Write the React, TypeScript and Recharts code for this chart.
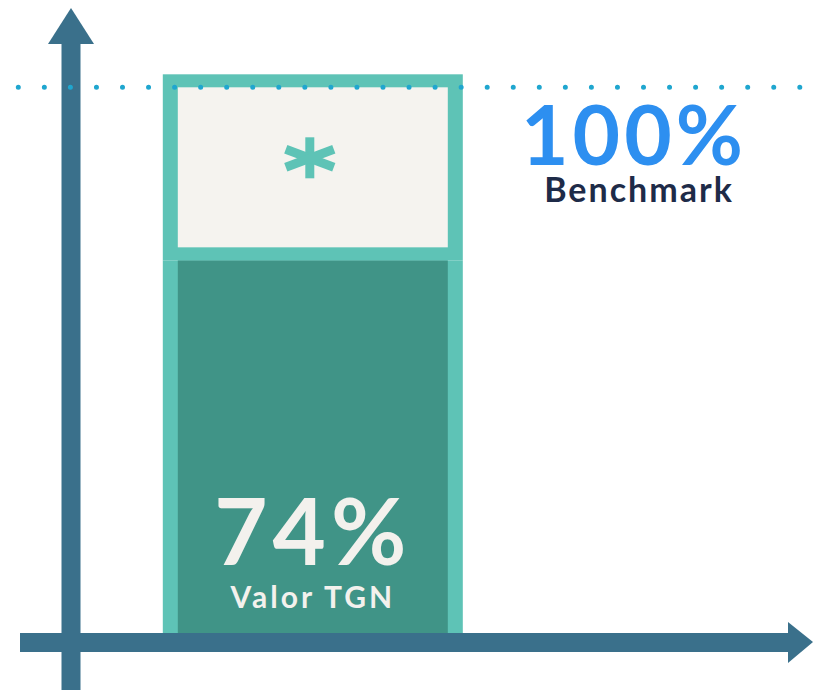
import { BarChart, Bar, XAxis, YAxis, ReferenceLine, LabelList, Customized } from 'recharts';

const categories = ['Valor TGN'];
const valorTGN = [74];
const benchmark = [100];

const BORDER = '#5ec3b6';
const CREAM = '#f5f3ef';
const DARK = '#409487';
const AXIS = '#3a708b';
const DOTS = '#1fa6cf';

const FONT = 'Lato, "Open Sans", sans-serif';

const chartData = categories.map((name, i) => ({
  name,
  valor: valorTGN[i],
  resto: benchmark[i] - valorTGN[i],
}));

// lower segment: teal frame on the sides, dark fill
const ValorShape = (props: any) => {
  const { x, y, width, height } = props;
  return (
    <g>
      <rect x={x - 15} y={y} width={width + 30} height={height} fill={BORDER} />
      <rect x={x} y={y} width={width} height={height} fill={DARK} />
    </g>
  );
};

// upper segment: frame on top and sides, separator at the bottom
const RestoShape = (props: any) => {
  const { x, y, width, height } = props;
  return (
    <g>
      <rect x={x - 15} y={y - 13} width={width + 30} height={height + 13} fill={BORDER} />
      <rect x={x} y={y} width={width} height={height - 13} fill={CREAM} />
    </g>
  );
};

const renderValor = (props: any) => {
  const { x, y, width, height, value } = props;
  const cx = x + width / 2;
  const bottom = y + height;
  return (
    <g>
      <text x={cx} y={bottom - 68} textAnchor="middle" fontFamily={FONT} fontWeight={700} fontSize={92} letterSpacing={5} fill="#f3f1ed">
        {`${value}%`}
      </text>
      <text x={cx} y={bottom - 25} textAnchor="middle" fontFamily={FONT} fontWeight={700} fontSize={30} letterSpacing={3} fill="#f3f1ed">
        {categories[0]}
      </text>
    </g>
  );
};

const renderAsterisk = (props: any) => {
  const { x, y, width } = props;
  const cx = x + width / 2 - 3;
  const cy = y + 71;
  return (
    <g stroke={BORDER} strokeWidth={9} strokeLinecap="butt">
      <line x1={cx} y1={cy - 21} x2={cx} y2={cy + 20} />
      <line x1={cx - 24} y1={cy - 9} x2={cx + 24} y2={cy + 9} />
      <line x1={cx - 24} y1={cy + 9} x2={cx + 24} y2={cy - 9} />
    </g>
  );
};

const BenchmarkLabel = (props: any) => {
  const { viewBox } = props;
  const y = viewBox?.y ?? 87;
  return (
    <g>
      <text x={634} y={y + 78} textAnchor="middle" fontFamily={FONT} fontWeight={700} fontSize={82} letterSpacing={4} fill="#2d8ff0">
        {`${benchmark[0]}%`}
      </text>
      <text x={639} y={y + 115} textAnchor="middle" fontFamily={FONT} fontWeight={700} fontSize={34} letterSpacing={2} fill="#1e2b48">
        Benchmark
      </text>
    </g>
  );
};

const AxisArrows = () => (
  <g fill={AXIS}>
    <rect x={61.5} y={40} width={19} height={650} />
    <polygon points="71,8 94,44 48,44" />
    <rect x={20} y={633} width={772} height={19} />
    <polygon points="788,622 813,642 788,663" />
  </g>
);

export default function App() {
  return (
    <div style={{ position: 'absolute', left: 0, top: 0, width: 813, height: 690, background: '#ffffff' }}>
      <BarChart
        width={813}
        height={690}
        data={chartData}
        margin={{ top: 74, right: 0, bottom: 57, left: 0 }}
        barCategoryGap="10%"
      >
        <XAxis dataKey="name" type="category" hide padding={{ left: 144, right: 331 }} />
        {/* infographic scale: base of the axis is not zero, headroom above 100 for the bar frame */}
        <YAxis type="number" domain={[18, 102]} hide allowDataOverflow />
        <Bar dataKey="valor" stackId="a" shape={ValorShape} isAnimationActive={false}>
          <LabelList dataKey="valor" content={renderValor} />
        </Bar>
        <Bar dataKey="resto" stackId="a" shape={RestoShape} isAnimationActive={false}>
          <LabelList dataKey="resto" content={renderAsterisk} />
        </Bar>
        <ReferenceLine
          y={benchmark[0]}
          stroke={DOTS}
          strokeWidth={5}
          strokeLinecap="round"
          strokeDasharray="0 26.05"
          strokeDashoffset={7.75}
          label={<BenchmarkLabel />}
        />
        <Customized component={AxisArrows} />
      </BarChart>
    </div>
  );
}
